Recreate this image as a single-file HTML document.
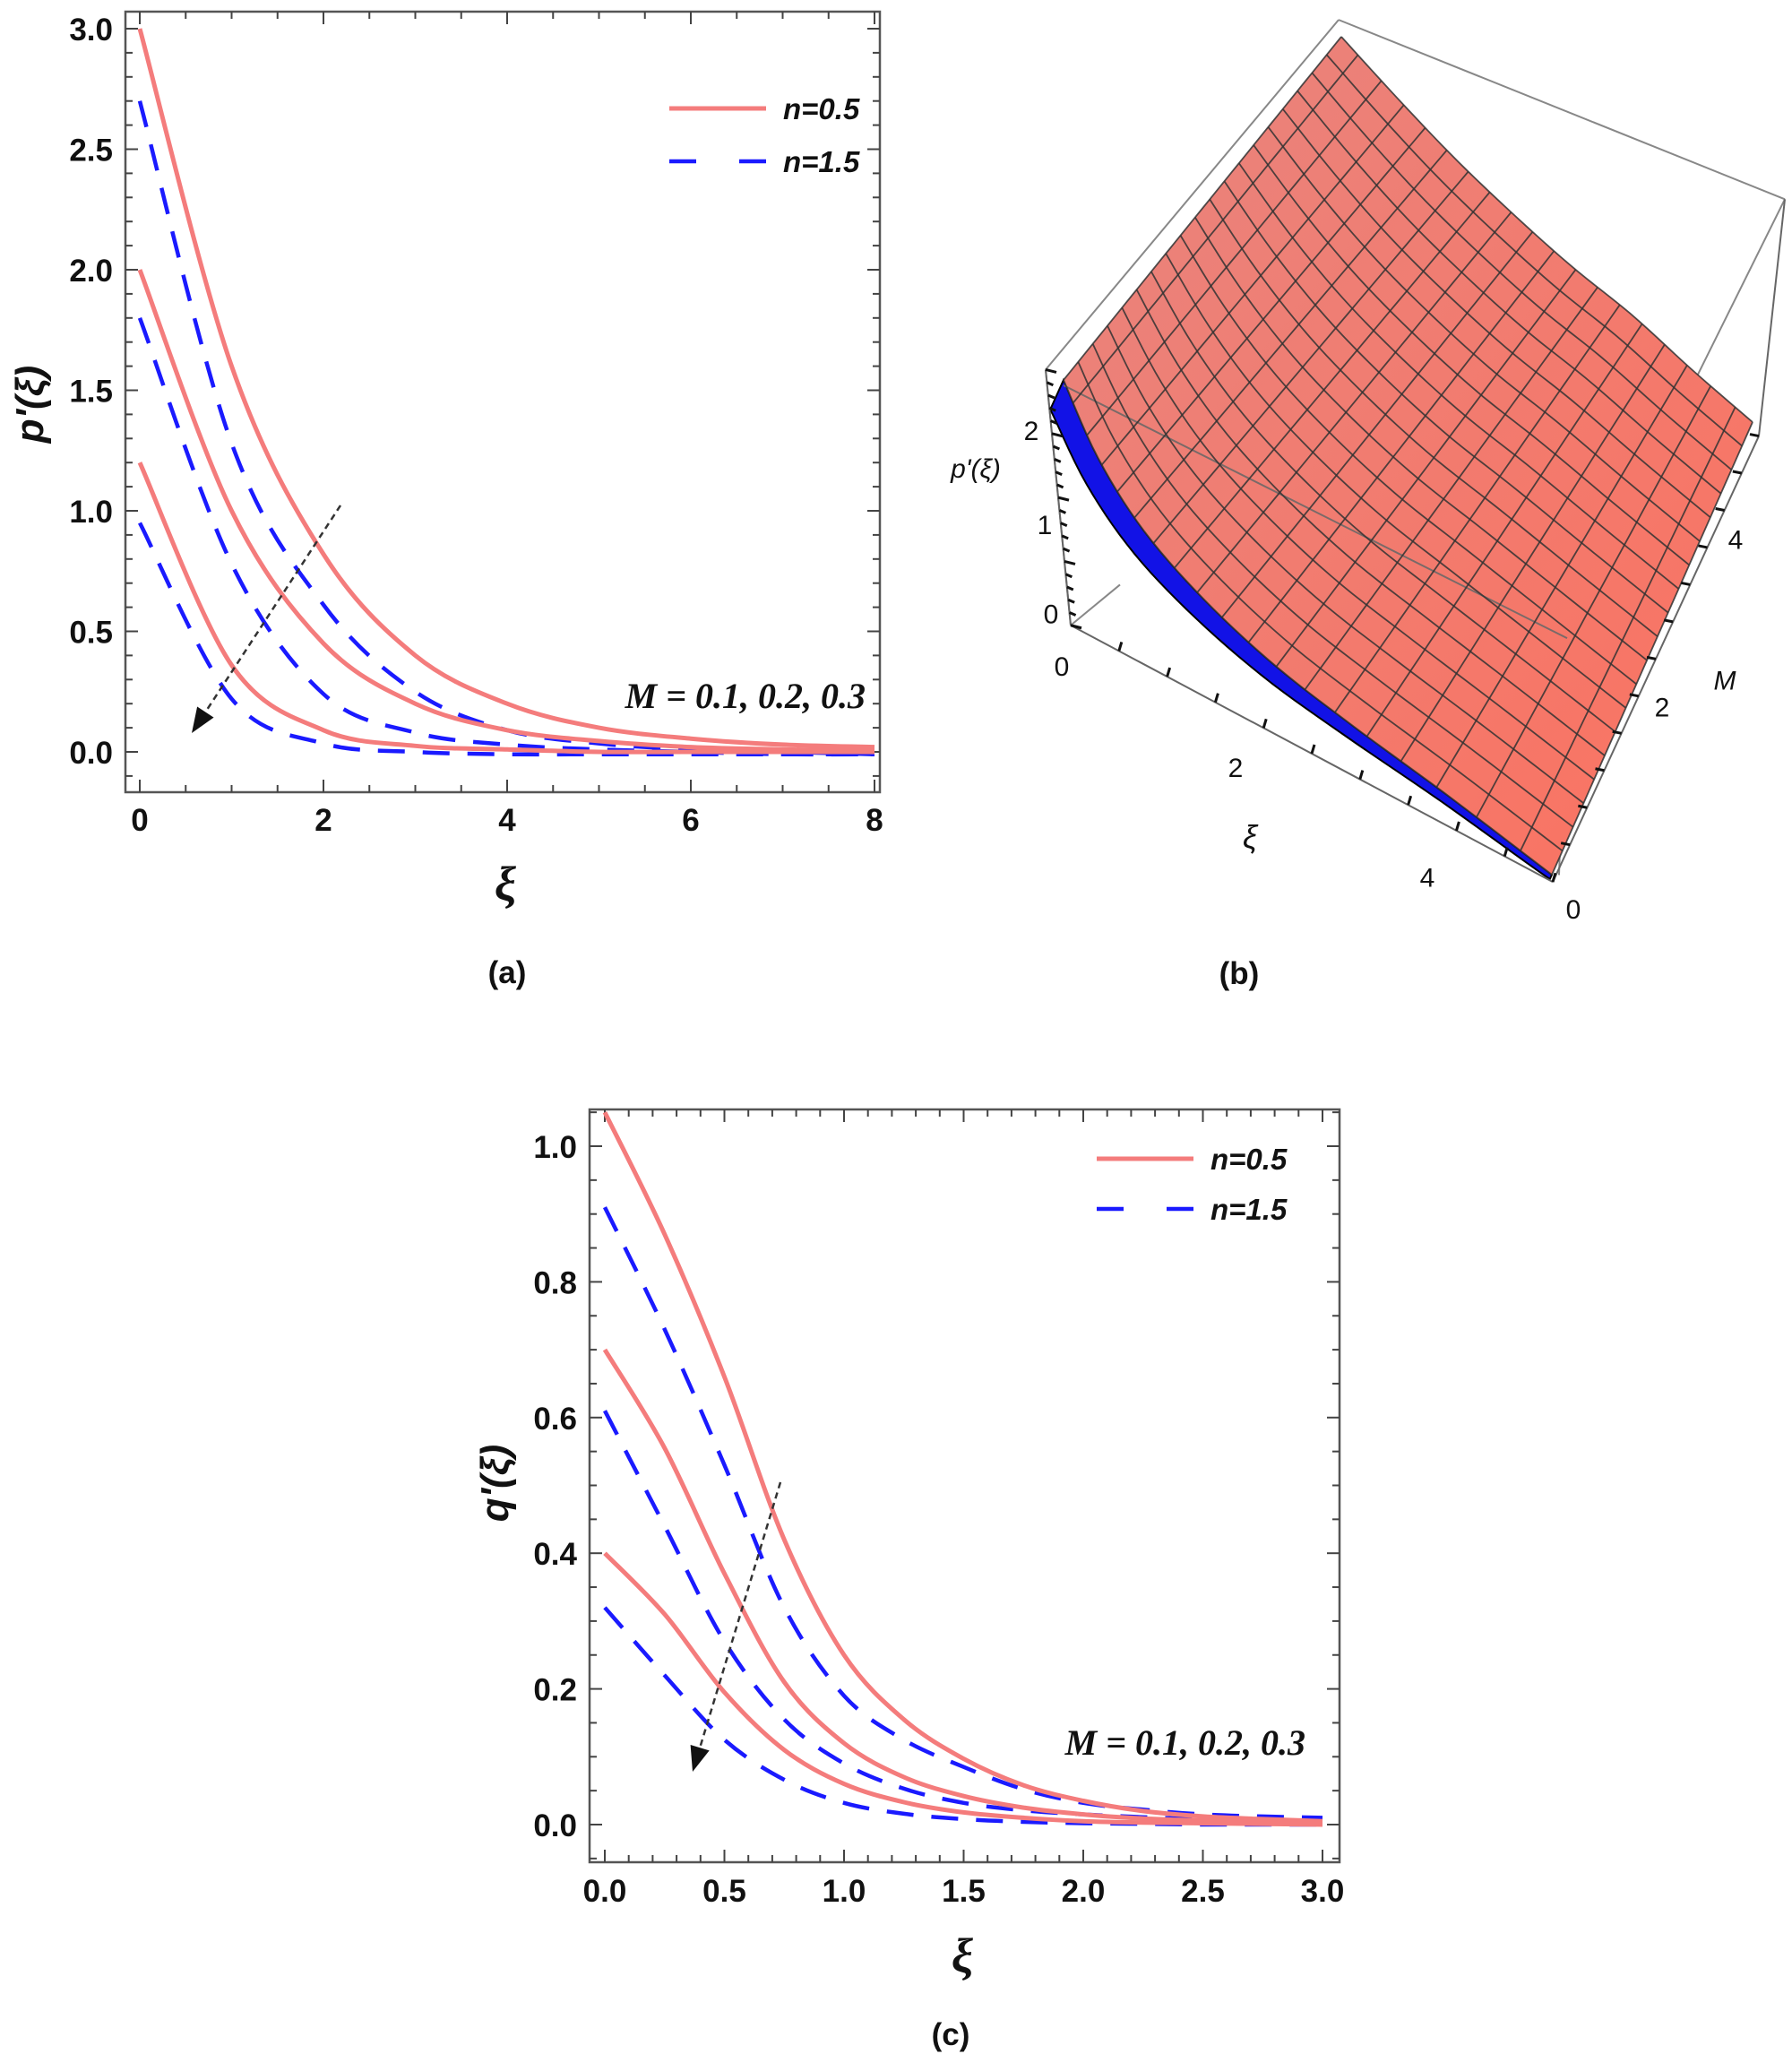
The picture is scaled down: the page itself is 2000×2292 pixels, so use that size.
<!DOCTYPE html>
<html><head><meta charset="utf-8"><style>
body{margin:0;background:#fff;}
svg{display:block;}
.tk{font-family:"Liberation Sans",Arial,sans-serif;font-weight:bold;font-size:35px;fill:#111;}
.lg{font-family:"Liberation Sans",Arial,sans-serif;font-weight:bold;font-style:italic;font-size:33px;fill:#111;}
.mt{font-family:"Liberation Serif",serif;font-weight:bold;font-style:italic;font-size:40px;fill:#111;}
.cap{font-family:"Liberation Sans",Arial,sans-serif;font-weight:bold;font-size:35px;fill:#111;}
.b3{font-family:"Liberation Sans",Arial,sans-serif;font-size:30px;fill:#111;}
</style></head><body>
<svg id="root" width="2000" height="2292" viewBox="0 0 2000 2292" xmlns="http://www.w3.org/2000/svg">
<g id="ga"></g>
<g id="gb"></g>
<g id="gc"></g>
<text class="cap" x="566" y="1097" text-anchor="middle">(a)</text>
<text class="cap" x="1383" y="1098" text-anchor="middle">(b)</text>
<text class="cap" x="1061" y="2282" text-anchor="middle">(c)</text>
</svg>
<script>
// ---- chart (a) data ----
const aX = [0,1,2,3,4,5,6,7,8];
const aSolid1 = [3.0,1.6,0.82,0.40,0.20,0.10,0.055,0.03,0.02];
const aSolid2 = [2.0,1.0,0.45,0.20,0.09,0.045,0.02,0.01,0.005];
const aSolid3 = [1.2,0.36,0.09,0.025,0.01,0,0,0,0];
const aDash1 = [2.7,1.28,0.61,0.25,0.09,0.035,0.01,0,-0.01];
const aDash2 = [1.8,0.78,0.24,0.08,0.03,0.01,0,-0.01,-0.01];
const aDash3 = [0.95,0.22,0.035,0,-0.01,-0.01,-0.01,-0.01,-0.01];
const aXTicks = ["0","2","4","6","8"];
const aYTicks = ["0.0","0.5","1.0","1.5","2.0","2.5","3.0"];
// ---- chart (c) data ----
const cX = [0,0.25,0.5,0.75,1,1.25,1.5,1.75,2,2.25,2.5,2.75,3];
const cSolid1 = [1.05,0.87,0.66,0.42,0.25,0.155,0.097,0.058,0.035,0.02,0.012,0.008,0.005];
const cSolid2 = [0.70,0.555,0.37,0.21,0.12,0.07,0.042,0.025,0.015,0.009,0.006,0.004,0.003];
const cSolid3 = [0.40,0.31,0.195,0.11,0.06,0.033,0.018,0.01,0.005,0.003,0.002,0.001,0];
const cDash1 = [0.91,0.73,0.53,0.32,0.19,0.125,0.085,0.052,0.032,0.022,0.015,0.012,0.01];
const cDash2 = [0.61,0.44,0.27,0.155,0.09,0.053,0.032,0.021,0.015,0.011,0.008,0.006,0.005];
const cDash3 = [0.32,0.22,0.125,0.066,0.032,0.016,0.008,0.004,0.002,0.001,0,0,0];
const cXTicks = ["0.0","0.5","1.0","1.5","2.0","2.5","3.0"];
const cYTicks = ["0.0","0.2","0.4","0.6","0.8","1.0"];

const NS="http://www.w3.org/2000/svg";
function mk(tag,attrs,parent){const e=document.createElementNS(NS,tag);for(const k in attrs)e.setAttribute(k,attrs[k]);parent.appendChild(e);return e;}
function crPath(pts){let d="M"+pts[0][0].toFixed(1)+","+pts[0][1].toFixed(1);
 for(let i=0;i<pts.length-1;i++){const p0=pts[Math.max(0,i-1)],p1=pts[i],p2=pts[i+1],p3=pts[Math.min(pts.length-1,i+2)];
  const c1=[p1[0]+(p2[0]-p0[0])/6,p1[1]+(p2[1]-p0[1])/6],c2=[p2[0]-(p3[0]-p1[0])/6,p2[1]-(p3[1]-p1[1])/6];
  d+=" C"+c1[0].toFixed(1)+","+c1[1].toFixed(1)+" "+c2[0].toFixed(1)+","+c2[1].toFixed(1)+" "+p2[0].toFixed(1)+","+p2[1].toFixed(1);}
 return d;}

function chart(g,o){
 const sx=v=>o.px0+(v-o.x0)*(o.px1-o.px0)/(o.x1-o.x0);
 const sy=v=>o.py0-(v-o.y0)*(o.py0-o.py1)/(o.y1-o.y0);
 const f=mk('rect',{x:o.L,y:o.T,width:o.R-o.L,height:o.B-o.T,fill:'none',stroke:'#555','stroke-width':2.5},g);
 
 for(let v=o.xmin;v<=o.xmax+1e-9;v+=o.xminor){const x=sx(v);if(x<o.L||x>o.R)continue;
  const maj=Math.abs(v/o.xmajor-Math.round(v/o.xmajor))<1e-6;const len=maj?14:8;
  mk('line',{x1:x,y1:o.B,x2:x,y2:o.B-len,stroke:'#444','stroke-width':2},g);
  mk('line',{x1:x,y1:o.T,x2:x,y2:o.T+len,stroke:'#444','stroke-width':2},g);}
 for(let v=o.ymin;v<=o.ymax+1e-9;v+=o.yminor){const y=sy(v);if(y<o.T||y>o.B)continue;
  const maj=Math.abs(v/o.ymajor-Math.round(v/o.ymajor))<1e-6;const len=maj?14:8;
  mk('line',{x1:o.L,y1:y,x2:o.L+len,y2:y,stroke:'#444','stroke-width':2},g);
  mk('line',{x1:o.R,y1:y,x2:o.R-len,y2:y,stroke:'#444','stroke-width':2},g);}
 o.xt.forEach(s=>{const t=mk('text',{x:sx(parseFloat(s)),y:o.B+o.xtOff,'text-anchor':'middle',class:'tk'},g);t.textContent=s;
  });
 o.yt.forEach(s=>{const t=mk('text',{x:o.L-14,y:sy(parseFloat(s))+13,'text-anchor':'end',class:'tk'},g);t.textContent=s;
  });
 const draw=(ys,dash,name)=>{const pts=o.xs.map((x,i)=>[sx(x),sy(ys[i])]);
  const p=mk('path',{d:crPath(pts),fill:'none',stroke:dash?'#1a1aff':'#f47c7c','stroke-width':dash?4.5:5},g);
  if(dash)p.setAttribute('stroke-dasharray','30 20');
  };
 o.dash.forEach((d,i)=>draw(d,true,'series-n1.5-M'+(i+1)));
 o.solid.forEach((d,i)=>draw(d,false,'series-n0.5-M'+(i+1)));
 mk('line',{x1:o.lg[0],y1:o.lg[1],x2:o.lg[0]+108,y2:o.lg[1],stroke:'#f47c7c','stroke-width':5},g);
 let t=mk('text',{x:o.lg[0]+127,y:o.lg[1]+12,class:'lg'},g);t.textContent='n=0.5';
 
 mk('line',{x1:o.lg[0],y1:o.lg[1]+o.lgs,x2:o.lg[0]+108,y2:o.lg[1]+o.lgs,stroke:'#1a1aff','stroke-width':4.5,'stroke-dasharray':'30 48'},g);
 t=mk('text',{x:o.lg[0]+127,y:o.lg[1]+o.lgs+12,class:'lg'},g);t.textContent='n=1.5';
 
 t=mk('text',{x:o.mt[0],y:o.mt[1],'text-anchor':'end',class:'mt'},g);t.textContent='M = 0.1,  0.2, 0.3';
 
 const a=o.ar;const ang=Math.atan2(a[3]-a[1],a[2]-a[0]);
 mk('line',{x1:a[0],y1:a[1],x2:a[2]-14*Math.cos(ang),y2:a[3]-14*Math.sin(ang),stroke:'#333','stroke-width':2.5,'stroke-dasharray':'7 5'},g);
 const hx=a[2],hy=a[3],l=28,w=11;
 const bx=hx-l*Math.cos(ang),by=hy-l*Math.sin(ang);
 const ar=mk('polygon',{points:`${hx},${hy} ${bx+w*Math.sin(ang)},${by-w*Math.cos(ang)} ${bx-w*Math.sin(ang)},${by+w*Math.cos(ang)}`,fill:'#111'},g);
 
 t=mk('text',{x:o.xl[0],y:o.xl[1],'text-anchor':'middle',class:'mt'},g);t.textContent='ξ';t.style.fontSize='54px';
 
 t=mk('text',{x:0,y:0,'text-anchor':'middle',class:'tk',transform:`translate(${o.yl[0]},${o.yl[1]}) rotate(-90)`},g);t.textContent=o.ytitle;t.style.fontSize='44px';t.style.fontStyle='italic';
 
}
chart(document.getElementById('ga'),{L:140,R:982,T:13,B:884,x0:0,x1:8,px0:156,px1:976,y0:0,y1:3,py0:839,py1:32,
 xmin:-0.5,xmax:8.5,xminor:0.5,xmajor:2,ymin:-0.2,ymax:3.1,yminor:0.1,ymajor:0.5,xtOff:43,
 xt:aXTicks,yt:aYTicks,xs:aX,solid:[aSolid1,aSolid2,aSolid3],dash:[aDash1,aDash2,aDash3],
 lg:[747,121],lgs:59,mt:[966,790],ar:[380,564,214,818],xl:[564,1004],yl:[48,451],ytitle:"p'(ξ)"});
chart(document.getElementById('gc'),{L:658,R:1495,T:1238,B:2078,x0:0,x1:3,px0:675,px1:1476,y0:0,y1:1,py0:2036,py1:1279,
 xmin:-0.1,xmax:3.1,xminor:0.1,xmajor:0.5,ymin:-0.05,ymax:1.05,yminor:0.05,ymajor:0.2,xtOff:44,
 xt:cXTicks,yt:cYTicks,xs:cX,solid:[cSolid1,cSolid2,cSolid3],dash:[cDash1,cDash2,cDash3],
 lg:[1224,1293],lgs:56,mt:[1457,1958],ar:[871,1654,773,1977],xl:[1074,2200],yl:[567,1655],ytitle:"q'(ξ)"});

// ---- chart (b) surface ----
const edgeM0 = [[1187,424],[1225,510],[1275,590],[1340,665],[1420,740],[1510,810],[1615,887],[1732,976]];
const edgeM5 = [[1497,41],[1560,110],[1625,178],[1690,240],[1755,298],[1822,352],[1890,414],[1956,471]];
const gb=document.getElementById('gb');
const K=1.1058;
function interp(arr,u){const n=arr.length-1;const f=u*n;const i=Math.min(n-1,Math.floor(f));const t=f-i;
 const p0=arr[Math.max(0,i-1)],p1=arr[i],p2=arr[i+1],p3=arr[Math.min(n,i+2)];
 const cr=(a,b,c,d)=>0.5*((2*b)+(-a+c)*t+(2*a-5*b+4*c-d)*t*t+(-a+3*b-3*c+d)*t*t*t);
 return [cr(p0[0],p1[0],p2[0],p3[0]),cr(p0[1],p1[1],p2[1],p3[1])];}
function P(u,v){const a=interp(edgeM0,u),b=interp(edgeM5,u);return [a[0]+(b[0]-a[0])*v,a[1]+(b[1]-a[1])*v];}
const boxBack=[[[1494,20],[1992,201]],[[1494,20],[1167,373]],[[1167,373],[1195,631]],[[1992,201],[1749,644]],[[1749,644],[1740,883]],[[1195,631],[1250,590]]];
boxBack.forEach(s=>{const l=mk('line',{x1:s[0][0],y1:s[0][1]*K,x2:s[1][0],y2:s[1][1]*K,stroke:'#888','stroke-width':2},gb);
 });
let bl=[];const N=48;
for(let i=0;i<=N;i++){bl.push(P(i/N,0));}
let bl2=[];for(let i=N;i>=0;i--){const p=P(i/N,0);const off=28*(1-i/N)+5;bl2.push([p[0]-off*0.45,p[1]+off]);}
const strip=mk('polygon',{points:bl.concat(bl2).map(p=>p.join(',')).join(' '),fill:'#1212e6',stroke:'#000','stroke-width':2},gb);

const defs=mk('defs',{},gb);const lgd=mk('linearGradient',{id:'sg',x1:'0',y1:'0',x2:'1',y2:'1'},defs);
mk('stop',{offset:'0','stop-color':'#e8857f'},lgd);mk('stop',{offset:'1','stop-color':'#fb7260'},lgd);
let outline=[];for(let i=0;i<=N;i++)outline.push(P(i/N,0));for(let j=0;j<=N;j++)outline.push(P(1,j/N));
for(let i=N;i>=0;i--)outline.push(P(i/N,1));for(let j=N;j>=0;j--)outline.push(P(0,j/N));
const surf=mk('polygon',{points:outline.map(p=>p.join(',')).join(' '),fill:'url(#sg)'},gb);

mk('line',{x1:1187,y1:430,x2:1749,y2:644*K,stroke:'#7a6a68','stroke-width':2},gb);
const G=19;
for(let k=0;k<=G;k++){let a=[],b=[];for(let i=0;i<=N;i++){a.push(P(k/G,i/N));b.push(P(i/N,k/G));}
 mk('polyline',{points:a.map(p=>p.join(',')).join(' '),fill:'none',stroke:'#333','stroke-width':1.8,opacity:0.85},gb);
 mk('polyline',{points:b.map(p=>p.join(',')).join(' '),fill:'none',stroke:'#333','stroke-width':1.8,opacity:0.85},gb);}
const axes=[[[1167,373],[1195,631]],[[1195,631],[1733,890]],[[1733,890],[1963,440]],[[1992,201],[1963,440]]];
axes.forEach(s=>mk('line',{x1:s[0][0],y1:s[0][1]*K,x2:s[1][0],y2:s[1][1]*K,stroke:'#666','stroke-width':2},gb));
for(let i=0;i<=20;i++){const t=i/20;const x=1167+28*t,y=(373+258*t)*K;mk('line',{x1:x,y1:y,x2:x+(i%5==0?12:7),y2:y+3,stroke:'#111','stroke-width':3},gb);}
for(let i=1;i<=10;i++){const t=i/10;const x=1195+538*t,y=(631+259*t)*K;mk('line',{x1:x,y1:y,x2:x+3,y2:y-10,stroke:'#111','stroke-width':3},gb);}
for(let i=1;i<=12;i++){const t=i/12;const x=1733+230*t,y=(890-450*t)*K;mk('line',{x1:x,y1:y,x2:x-10,y2:y-2,stroke:'#111','stroke-width':3},gb);}
const labs=[["2",1151,434],["1",1166,529],["0",1173,619],["0",1185,672],["2",1379,774],["4",1593,885],["0",1756,917],["2",1855,713],["4",1937,544]];
labs.forEach(l=>{const t=mk('text',{x:l[1],y:l[2]*K+11,'text-anchor':'middle',class:'b3'},gb);t.textContent=l[0];
 });
let t=mk('text',{x:1089,y:472*K+11,'text-anchor':'middle',class:'b3'},gb);t.textContent="p'(ξ)";t.style.fontStyle='italic';

t=mk('text',{x:1395,y:845*K+12,'text-anchor':'middle',class:'b3'},gb);t.textContent="ξ";t.style.fontStyle='italic';t.style.fontSize='36px';

t=mk('text',{x:1925,y:686*K+11,'text-anchor':'middle',class:'b3'},gb);t.textContent="M";t.style.fontStyle='italic';

</script>
</body></html>
